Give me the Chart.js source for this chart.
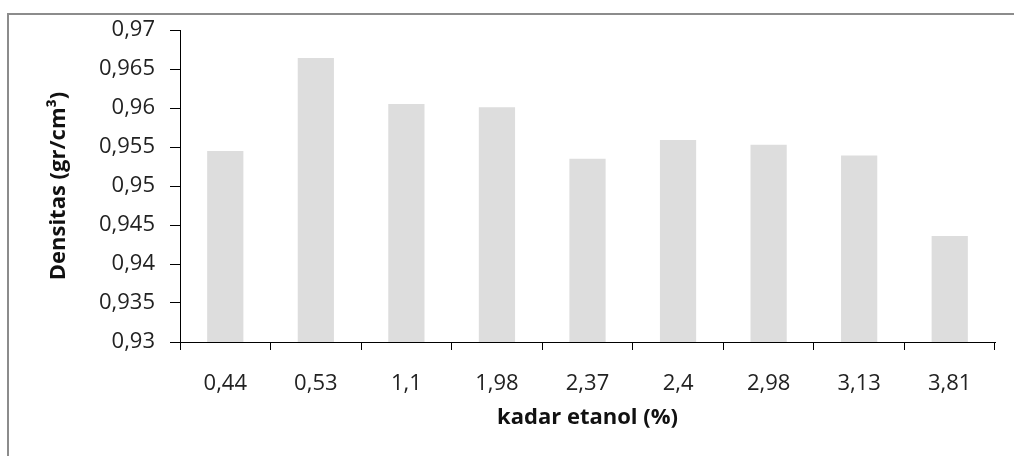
<!DOCTYPE html>
<html>
<head>
<meta charset="utf-8">
<script src="https://cdn.jsdelivr.net/npm/chart.js@4.4.1/dist/chart.umd.min.js"></script>
<style>
  body { margin: 0; background: #fff; }
  #wrap { position: relative; width: 1014px; height: 456px; overflow: hidden; }
  #frame { position: absolute; left: 7px; top: 13px; width: 1100px; height: 500px;
           border-top: 2px solid #8c8c8c; border-left: 2px solid #8c8c8c; }
  #myChart { position: absolute; left: 0; top: 0; }
</style>
</head>
<body>
<div id="wrap">
  <div id="frame"></div>
  <canvas id="myChart" width="1014" height="456"></canvas>
</div>
<script>
// kadar etanol (%) categories and density values
const labels = ["0,44", "0,53", "1,1", "1,98", "2,37", "2,4", "2,98", "3,13", "3,81"]
const densitas = [0.9545, 0.9664, 0.9605, 0.9601, 0.9535, 0.9559, 0.9553, 0.9539, 0.9436]

// y axis range and step
const yMin = 0.93
const yMax = 0.97
const yStep = 0.005

const fontName = "'Open Sans', sans-serif"

const data = {
    labels,
    datasets: [{
        data: densitas,
        backgroundColor: "#dddddd",
        borderWidth: 0,
        barPercentage: 0.4,
        categoryPercentage: 1.0,
    }]
}

const config = {
    type: "bar",
    data: data,
    options: {
        responsive: false,
        animation: false,
        layout: {
            padding: { top: 30, right: 19, bottom: 0, left: 0 }
        },
        plugins: {
            legend: { display: false },
            tooltip: { enabled: false }
        },
        scales: {
            x: {
                grid: {
                    display: true,
                    drawOnChartArea: false,
                    drawTicks: true,
                    tickLength: 8,
                    color: "#000",
                    offset: true
                },
                border: { color: "#000", width: 1 },
                ticks: {
                    color: "#222",
                    padding: 21,
                    maxRotation: 0,
                    font: { family: fontName, size: 22 }
                },
                title: {
                    display: true,
                    text: "kadar etanol (%)",
                    color: "#111",
                    padding: { top: 0, bottom: 25 },
                    font: { family: fontName, size: 22, weight: "bold" }
                },
                afterFit: (scale) => { scale.height = 114 }
            },
            y: {
                min: yMin,
                max: yMax,
                grid: {
                    display: true,
                    drawOnChartArea: false,
                    drawTicks: true,
                    tickLength: 10,
                    color: "#000"
                },
                border: { color: "#000", width: 1 },
                ticks: {
                    stepSize: yStep,
                    color: "#222",
                    padding: 15,
                    font: { family: fontName, size: 22 },
                    callback: (v) => parseFloat(v.toFixed(3)).toString().replace(".", ",")
                },
                title: {
                    display: true,
                    text: "Densitas (gr/cm³)",
                    color: "#111",
                    padding: { top: 46, bottom: 0 },
                    font: { family: fontName, size: 22, weight: "bold" }
                },
                afterFit: (scale) => { scale.width = 180 }
            }
        }
    }
}

const ctx = document.querySelector("#myChart");
let myChart = new Chart(ctx, config);
</script>
</body>
</html>
